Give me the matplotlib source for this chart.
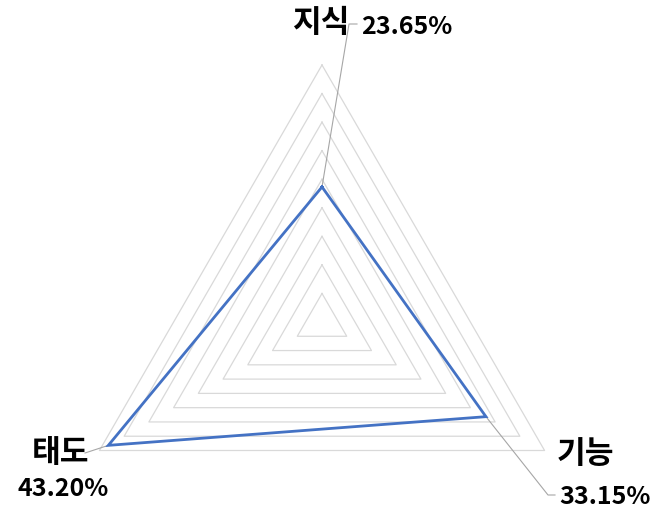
import matplotlib.pyplot as plt
import numpy as np

plt.rcParams['font.family'] = ['Noto Sans CJK KR', 'DejaVu Sans']

categories = ['지식', '기능', '태도']
values = [23.65, 33.15, 43.20]
angles_deg = [90, -30, 210]
max_val = 45
step = 5

W, H = 666, 509
cx, cy = 322, 322          # centre of the radar in pixels
scale = 257 / max_val      # pixels per percent


def px(x, y):
    # pixel position -> data coordinates
    return (x - cx) / scale, (cy - y) / scale


fig = plt.figure(figsize=(W / 100, H / 100), dpi=100)
ax = fig.add_axes([0, 0, 1, 1])
ax.set_xlim(-cx / scale, (W - cx) / scale)
ax.set_ylim(-(H - cy) / scale, cy / scale)
ax.axis('off')

th = np.radians(angles_deg)

# grid triangles
for r in np.arange(step, max_val + step / 2, step):
    gx = r * np.cos(th)
    gy = r * np.sin(th)
    ax.plot(np.append(gx, gx[0]), np.append(gy, gy[0]), color='#d9d9d9', lw=0.9, zorder=1)

# data
vx = np.array(values) * np.cos(th)
vy = np.array(values) * np.sin(th)
ax.plot(np.append(vx, vx[0]), np.append(vy, vy[0]), color='#4472C4', lw=2.0,
        solid_joinstyle='miter', zorder=3)

# category labels (pixel centres)
cat_pos = [(321, 23), (585, 454), (60, 453)]
for name, (x, y) in zip(categories, cat_pos):
    ax.text(*px(x, y), name, fontsize=22.5, fontweight='bold', ha='center', va='center',
            color='black')

# data labels with leader lines
lab_pos = [(407, 27), (605, 497), (63, 489)]
leaders = [[(349, 24), (357, 24)], [(548, 495), (555, 495)], [(85, 453)]]
for i, v in enumerate(values):
    ax.text(*px(*lab_pos[i]), f'{v:.2f}%', fontsize=18, fontweight='bold',
            ha='center', va='center', color='black')
    pts = [(vx[i], vy[i])] + [px(*p) for p in leaders[i]]
    ax.plot([p[0] for p in pts], [p[1] for p in pts], color='#a6a6a6', lw=0.8, zorder=2)

fig.savefig('out.png', dpi=100)
